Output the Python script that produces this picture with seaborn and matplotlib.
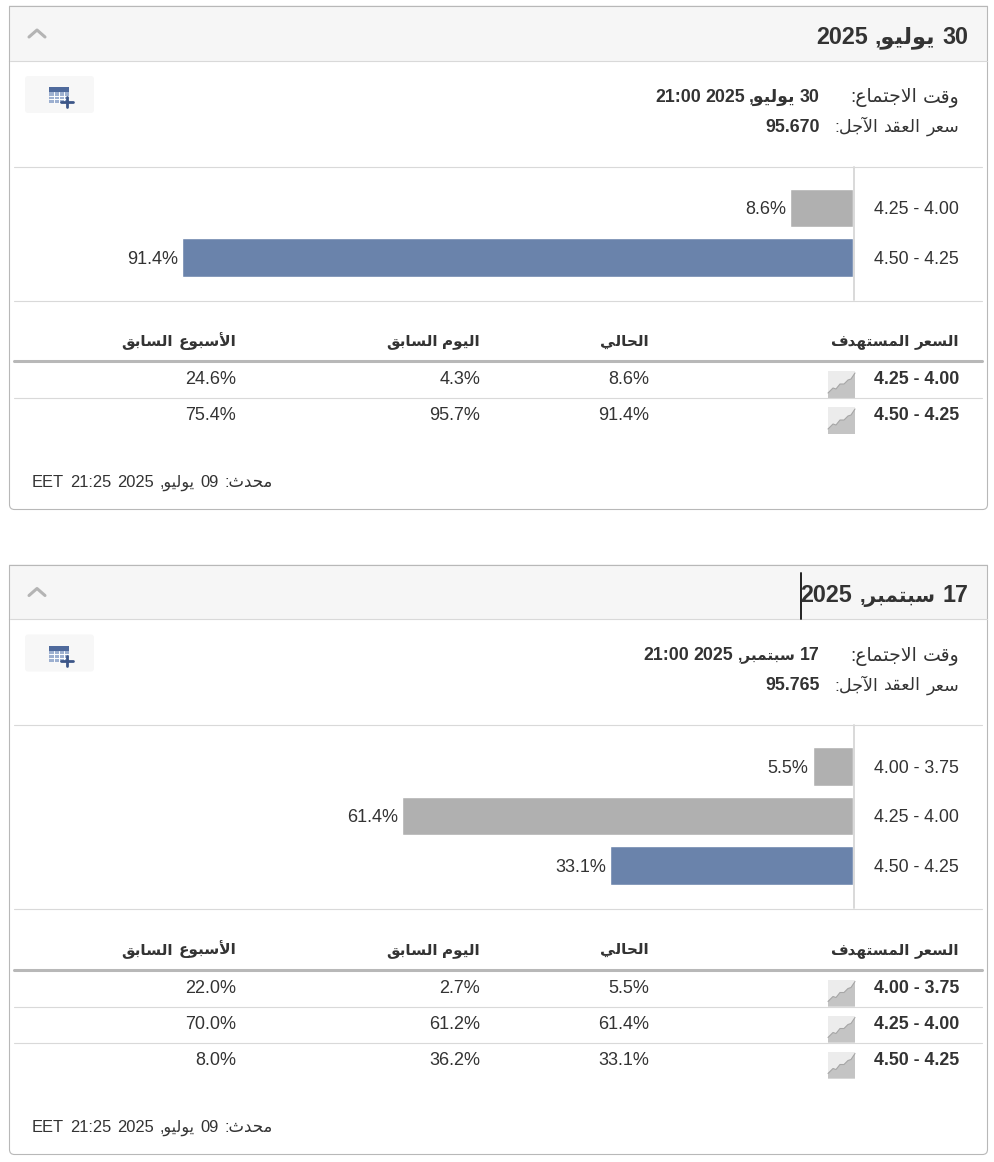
import pandas as pd
import seaborn as sns
import matplotlib.pyplot as plt
from matplotlib.patches import FancyBboxPatch, Rectangle, Polygon

W, H = 994, 1162

# panel 1
july_title = "30 يوليو, 2025"
july_time = "30 يوليو, 2025 21:00"
july_price = "95.670"
july_targets = ["4.25 - 4.00", "4.50 - 4.25"]
july_now = [8.6, 91.4]
july_day = [4.3, 95.7]
july_week = [24.6, 75.4]
july_current = [False, True]

# panel 2
sep_title = "17 سبتمبر, 2025"
sep_time = "17 سبتمبر, 2025 21:00"
sep_price = "95.765"
sep_targets = ["4.00 - 3.75", "4.25 - 4.00", "4.50 - 4.25"]
sep_now = [5.5, 61.4, 33.1]
sep_day = [2.7, 61.2, 36.2]
sep_week = [22.0, 70.0, 8.0]
sep_current = [False, False, True]

lbl_time = "وقت الاجتماع:"
lbl_price = "سعر العقد الآجل:"
col_names = ["السعر المستهدف", "الحالي", "اليوم السابق", "الأسبوع السابق"]
updated = "محدث: 09 يوليو, 2025 21:25 EET"

TEXT = "#333333"
GREY = "#b0b0b0"
BLUE = "#6a83ab"
RULE = "#d9d9d9"
EDGE = "#b8b8b8"

# matplotlib does no Arabic shaping, so map letters to presentation forms
FORMS = {
    "ا": (0xFE8D, 0xFE8E), "أ": (0xFE83, 0xFE84), "آ": (0xFE81, 0xFE82),
    "د": (0xFEA9, 0xFEAA), "ر": (0xFEAD, 0xFEAE), "و": (0xFEED, 0xFEEE),
    "ب": (0xFE8F, 0xFE90, 0xFE91, 0xFE92), "ت": (0xFE95, 0xFE96, 0xFE97, 0xFE98),
    "ث": (0xFE99, 0xFE9A, 0xFE9B, 0xFE9C), "ج": (0xFE9D, 0xFE9E, 0xFE9F, 0xFEA0),
    "ح": (0xFEA1, 0xFEA2, 0xFEA3, 0xFEA4), "س": (0xFEB1, 0xFEB2, 0xFEB3, 0xFEB4),
    "ع": (0xFEC9, 0xFECA, 0xFECB, 0xFECC), "ف": (0xFED1, 0xFED2, 0xFED3, 0xFED4),
    "ق": (0xFED5, 0xFED6, 0xFED7, 0xFED8), "ل": (0xFEDD, 0xFEDE, 0xFEDF, 0xFEE0),
    "م": (0xFEE1, 0xFEE2, 0xFEE3, 0xFEE4), "ه": (0xFEE9, 0xFEEA, 0xFEEB, 0xFEEC),
    "ي": (0xFEF1, 0xFEF2, 0xFEF3, 0xFEF4),
}
LAM_ALEF = {"ا": (0xFEFB, 0xFEFC), "أ": (0xFEF7, 0xFEF8), "آ": (0xFEF5, 0xFEF6)}

# the original Arabic font is narrower for some words than DejaVu
WORD_SCALE = {"سبتمبر,": 0.86, "يوليو,": 0.97}


def shape_word(word):
    out = []
    i = 0
    prev_joins = False
    while i < len(word):
        c = word[i]
        if c not in FORMS:
            out.append(c)
            prev_joins = False
            i += 1
            continue
        if c == "ل" and i + 1 < len(word) and word[i + 1] in LAM_ALEF:
            out.append(chr(LAM_ALEF[word[i + 1]][1 if prev_joins else 0]))
            prev_joins = False
            i += 2
            continue
        forms = FORMS[c]
        next_ok = i + 1 < len(word) and word[i + 1] in FORMS
        if len(forms) == 2:
            out.append(chr(forms[1 if prev_joins else 0]))
            prev_joins = False
        else:
            if prev_joins:
                out.append(chr(forms[3 if next_ok else 1]))
            else:
                out.append(chr(forms[2 if next_ok else 0]))
            prev_joins = next_ok
        i += 1
    return "".join(out)


def px(size):
    return size * 0.72


sns.set_style("white")
plt.rcParams["font.family"] = ["Liberation Sans", "DejaVu Sans"]

fig = plt.figure(figsize=(W / 100, H / 100), dpi=100)
bg = fig.add_axes([0, 0, 1, 1])
bg.set_xlim(0, W)
bg.set_ylim(H, 0)
bg.axis("off")
renderer = fig.canvas.get_renderer()


def rtl_text(x, y, text, size, weight="normal", scale=1.0, gap=0.25):
    # word by word from the right edge, y is the baseline; numbers stay as they are
    for w in text.split(" "):
        if any(c in FORMS for c in w):
            s = shape_word(w)[::-1]
            fs = size * scale * WORD_SCALE.get(w, 1.0)
        else:
            s = w
            fs = size
        t = bg.text(x, y, s, ha="right", va="baseline", fontsize=px(fs),
                    fontweight=weight, color=TEXT)
        x -= t.get_window_extent(renderer).width + gap * size


def spark(x, y):
    bg.add_patch(Rectangle((x, y), 27, 27, fc="#ececec", ec="none"))
    top = [(0, 22), (5, 17), (8, 18), (12, 13), (16, 13), (20, 9), (23, 8), (27, 2)]
    pts = [(x + a, y + b) for a, b in top]
    bg.add_patch(Polygon(pts + [(x + 27, y + 27), (x, y + 27)], fc="#c4c4c4", ec="none"))
    bg.plot([p[0] for p in pts], [p[1] for p in pts], color="#a6a6a6", lw=0.8)


def table_icon(y):
    bg.add_patch(FancyBboxPatch((27, y + 2), 65, 33, boxstyle="round,pad=2,rounding_size=3",
                                fc="#f7f7f7", ec="none"))
    bg.add_patch(Rectangle((49, y + 11), 20, 5, fc="#4f6a9c", ec="none"))
    bg.add_patch(Rectangle((49, y + 16), 20, 11, fc="#9db0d0", ec="none"))
    for gx in [54, 59, 64]:
        bg.plot([gx, gx], [y + 16, y + 27], color="white", lw=0.7)
    for gy in [19.5, 23]:
        bg.plot([49, 69], [y + gy, y + gy], color="white", lw=0.7)
    bg.plot([67, 67], [y + 21, y + 31], color="#3c5688", lw=2)
    bg.plot([61, 73], [y + 26, y + 26], color="#3c5688", lw=2)


def panel(top, bottom, title, when, price, targets, now, day, week, current):
    # top is the y of the outer border; everything else hangs off it
    bg.add_patch(FancyBboxPatch((9.5, top), 978, bottom - top, boxstyle="round,pad=0,rounding_size=5",
                                fc="white", ec=EDGE, lw=0.8))
    # header covers the rounded top corners, then gets its own square edge
    bg.add_patch(Rectangle((8.5, top - 1.5), 980, 56, fc="#f6f6f6", ec="none"))
    bg.add_patch(Rectangle((0, top - 3), W, 2.4, fc="white", ec="none"))
    bg.add_patch(Rectangle((0, top - 1.5), 9, 56, fc="white", ec="none"))
    bg.add_patch(Rectangle((988, top - 1.5), 6, 56, fc="white", ec="none"))
    bg.plot([9.4, 9.4, 987.4, 987.4], [top + 54.5, top, top, top + 54.5], color=EDGE, lw=0.8)
    bg.plot([10, 987], [top + 54.5, top + 54.5], color=RULE, lw=0.8)
    bg.plot([29, 37, 45], [top + 31, top + 24, top + 31], color="#b4b4b4", lw=2.2)
    rtl_text(968, top + 37.5, title, 23.2, weight="bold", gap=0.3)

    table_icon(top + 70)
    rtl_text(959, top + 96, lbl_time, 18, scale=1.05, gap=0.3)
    rtl_text(959, top + 126, lbl_price, 18, scale=0.97, gap=0.3)
    rtl_text(820, top + 96, when, 17.8, weight="bold")
    rtl_text(820, top + 126, price, 17.8, weight="bold")

    n = len(targets)
    rule1 = top + 160.5
    bar_top = rule1 + 16.8
    bar_bottom = bar_top + 49.4 * n
    rule2 = rule1 + 34 + 50 * n
    bg.plot([14, 982], [rule1, rule1], color=RULE, lw=0.8)
    bg.plot([14, 982], [rule2, rule2], color=RULE, lw=0.8)
    bg.plot([854, 854], [rule1, rule2 - 1], color=RULE, lw=1.4)

    ax = fig.add_axes([119 / W, 1 - bar_bottom / H, 734 / W, (bar_bottom - bar_top) / H])
    ax.patch.set_alpha(0)
    df = pd.DataFrame({"target": targets, "pct": now, "current": current})
    sns.barplot(data=df, y="target", x="pct", hue="current", order=targets,
                palette={False: GREY, True: BLUE}, dodge=False, width=0.78,
                legend=False, saturation=1, ax=ax)
    for c in ax.containers:
        # axis runs backwards, so the label goes on the far side by hand
        for lab in ax.bar_label(c, fmt="%.1f%%", padding=-2.9, fontsize=px(18), color=TEXT):
            lab.set_ha("right")
            lab.set_va("center_baseline")
    ax.set_xlim(100, 0)
    ax.set_ylim(n - 0.5, -0.5)
    ax.set_xlabel("")
    ax.set_ylabel("")
    ax.set_xticks([])
    ax.yaxis.tick_right()
    ax.tick_params(axis="y", length=0, pad=15.1, labelsize=px(17.8), labelcolor=TEXT)
    for lab in ax.get_yticklabels():
        lab.set_va("center_baseline")
    sns.despine(ax=ax, left=True, right=True, top=True, bottom=True)

    line_y = rule2 + 60.5
    for name, x in zip(col_names, [959, 649, 480, 236]):
        rtl_text(x, rule2 + 45, name, 15.3, weight="bold", gap=0.33)
    bg.plot([14, 982], [line_y, line_y], color=EDGE, lw=2.2)

    for i in range(n):
        y = line_y + 18 + 36 * i
        bg.text(959, y + 5.5, targets[i], ha="right", va="baseline", fontsize=px(17.8),
                fontweight="bold", color=TEXT)
        for vals, x in zip([now, day, week], [649, 480, 236]):
            bg.text(x, y + 5.5, f"{vals[i]:.1f}%", ha="right", va="baseline", fontsize=px(18), color=TEXT)
        spark(828, y - 8)
        if i < n - 1:
            bg.plot([14, 982], [y + 19, y + 19], color=RULE, lw=0.8)

    rtl_text(273, line_y + 126 + 36 * (n - 2), updated, 16.5, gap=0.355)


panel(6, 509.5, july_title, july_time, july_price, july_targets, july_now, july_day, july_week, july_current)
panel(564.5, 1154.5, sep_title, sep_time, sep_price, sep_targets, sep_now, sep_day, sep_week, sep_current)

# text cursor left in the second header
bg.plot([801, 801], [573, 619], color="#222222", lw=1.4)

plt.savefig("out.png", dpi=100)
plt.close()
